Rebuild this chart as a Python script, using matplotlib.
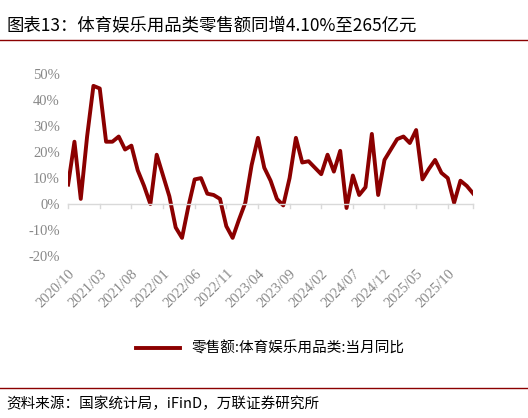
import matplotlib
matplotlib.use("Agg")
import matplotlib.pyplot as plt
import numpy as np

plt.rcParams['font.family'] = ['Noto Sans CJK SC', 'DejaVu Sans']

start_year, start_month = 2020, 10
values = [7.5, 24, 2, 26, 45.5, 44.5, 24, 24, 26, 21, 22.5, 13, 7, 0, 19, 11, 3, -9, -13, -1,
          9.5, 10, 4, 3.5, 2, -8.5, -13, -6, 0.5, 15, 25.5, 14, 9, 2, -0.5, 10, 25.5, 16, 16.5, 14,
          11.5, 19, 12.5, 20.5, -1.5, 11, 3.5, 6.5, 27, 3.5, 17, 21, 25, 26, 23.5, 28.5, 9.5, 13.5, 17, 12,
          10, 0.5, 9, 7, 4.1]
labels = []
y, m = start_year, start_month
for _ in values:
    labels.append(f"{y}/{m:02d}")
    m += 1
    if m > 12:
        m = 1; y += 1

fig = plt.figure(figsize=(5.28, 4.18), dpi=100)
fig.text(0.012, 0.94, "图表13：体育娱乐用品类零售额同增4.10%至265亿元", fontsize=12.5, va='center')
fig.add_artist(plt.Line2D([0.0, 1.0], [0.905, 0.905], color='#8B0000', lw=1))
fig.add_artist(plt.Line2D([0.0, 1.0], [0.072, 0.072], color='#8B0000', lw=1))
fig.text(0.012, 0.035, "资料来源：国家统计局，iFinD，万联证券研究所", fontsize=10.5, style='italic', va='center')

ax = fig.add_axes([0.129, 0.375, 0.767, 0.46])
x = np.arange(len(values))
ax.plot(x, values, color='#8B0000', lw=2.8, label="零售额:体育娱乐用品类:当月同比")
ax.set_ylim(-22, 52)
ax.set_xlim(0, len(values) - 1)
ax.set_yticks(range(-20, 51, 10))
ax.set_yticklabels([f"{v}%" for v in range(-20, 51, 10)], color='#888888', fontsize=10.5, family='Liberation Serif')
for s in ax.spines.values():
    s.set_visible(False)
ax.axhline(0, color='#d9d9d9', lw=1, clip_on=False)
ticks = list(range(0, len(values), 5))
ax.set_xticks(ticks)
ax.set_xticklabels([labels[i] for i in ticks], rotation=45, ha='right', rotation_mode='anchor',
                   color='#888888', fontsize=10.5, family='Liberation Serif')
ax.tick_params(axis='y', length=0, pad=6)
ax.tick_params(axis='x', length=0, pad=4)
for t in ticks:
    ax.plot([t, t], [0, -1.5], color='#d9d9d9', lw=1, clip_on=False)
ax.plot([len(values) - 1] * 2, [0, -1.5], color='#d9d9d9', lw=1, clip_on=False)
ax.legend(loc='upper center', bbox_to_anchor=(0.5, -0.35), frameon=False, fontsize=10.5, handlelength=3)
fig.savefig("out.png", dpi=100)
